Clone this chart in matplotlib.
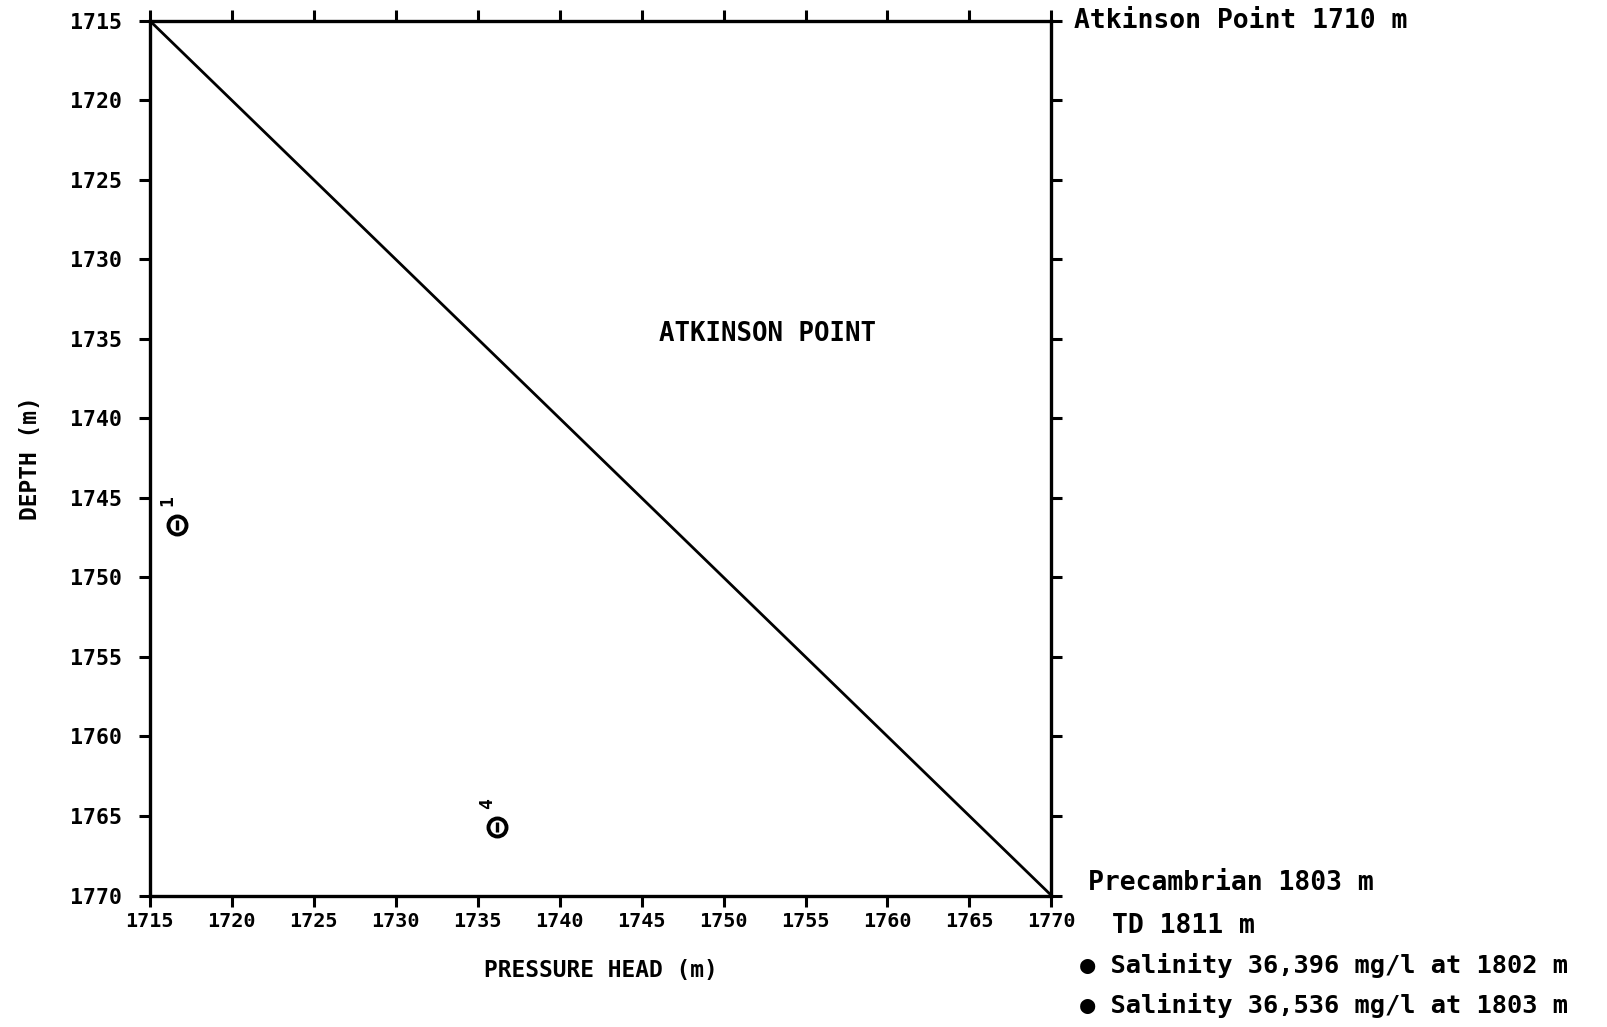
import matplotlib
matplotlib.use('Agg')
import matplotlib.pyplot as plt
import numpy as np

# hydrostatic reference line (pressure head == depth)
line_head = [1715, 1770]
line_depth = [1715, 1770]

# DST test points: pressure head (m), depth (m), test number
test_head = [1716.7, 1736.2]
test_depth = [1746.7, 1765.7]
test_id = ['1', '4']

xticks = np.arange(1715, 1771, 5)
yticks = np.arange(1715, 1771, 5)

# text beside the plot: label, x (axes fraction), depth, font size
side_notes = [
    ('Atkinson Point 1710 m', 1.025, 1715.0, 19),
    ('Precambrian 1803 m', 1.041, 1769.2, 19),
    ('TD 1811 m', 1.067, 1771.9, 19),
    ('\u25cf Salinity 36,396 mg/l at 1802 m', 1.032, 1774.4, 18.3),
    ('\u25cf Salinity 36,536 mg/l at 1803 m', 1.032, 1776.9, 18.3),
]

mono = ['DejaVu Sans Mono', 'DejaVu Sans']

fig = plt.figure(figsize=(16.07, 10.27), dpi=100)
ax = fig.add_axes([0.0931, 0.128, 0.5612, 0.852])

ax.plot(line_head, line_depth, color='black', lw=2.0)

# open circle markers with a small stroke inside
ax.plot(test_head, test_depth, ls='none', marker='o', ms=13, mfc='white',
        mec='black', mew=2.8)
ax.plot(test_head, test_depth, ls='none', marker='|', ms=7, mec='black', mew=2.4)
for hx, dy, tid in zip(test_head, test_depth, test_id):
    ax.text(hx - 0.6, dy - 1.5, tid, rotation=90, ha='center', va='center',
            fontsize=13, fontweight='bold', family=mono)

ax.text(1752.7, 1734.7, 'ATKINSON POINT', ha='center', va='center',
        fontsize=18.5, fontweight='bold', family=mono)

ax.set_xlim(1715, 1770)
ax.set_ylim(1770, 1715)
ax.set_xticks(xticks)
ax.set_yticks(yticks)
ax.set_xticklabels([str(v) for v in xticks], fontsize=14.5, fontweight='bold', family=mono)
ax.set_yticklabels([str(v) for v in yticks], fontsize=15.5, fontweight='bold', family=mono)
ax.tick_params(axis='both', direction='out', length=8, width=2.2, top=True, right=True,
               labeltop=False, labelright=False)
ax.tick_params(axis='y', pad=12)
ax.tick_params(axis='x', pad=4)

for sp in ax.spines.values():
    sp.set_linewidth(2.4)

ax.set_xlabel('PRESSURE HEAD (m)', fontsize=16.5, fontweight='bold', family=mono, labelpad=20)
ax.set_ylabel('DEPTH (m)', fontsize=16.5, fontweight='bold', family=mono, labelpad=20)

trans = ax.get_yaxis_transform()
for txt, xf, yd, fs in side_notes:
    ax.text(xf, yd, txt, transform=trans, ha='left', va='center', fontsize=fs,
            fontweight='bold', family=mono, clip_on=False)

fig.savefig('out.png', dpi=100, facecolor='white')
